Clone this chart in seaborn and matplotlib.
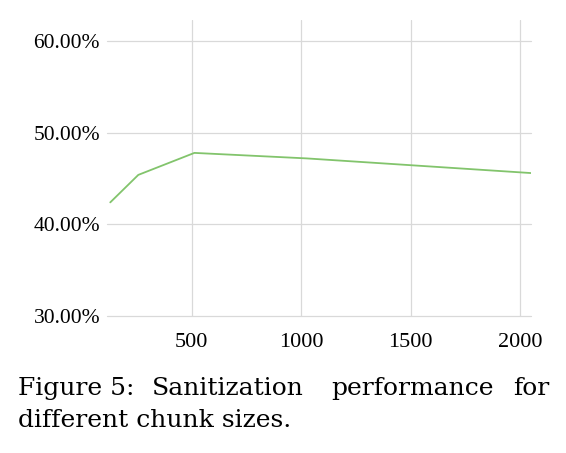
import pandas as pd
import seaborn as sns
import matplotlib.pyplot as plt
from matplotlib.ticker import PercentFormatter

sns.set_theme(style="whitegrid")
plt.rcParams["font.family"] = "Liberation Serif"

# data
chunk_sizes = [128, 256, 512, 1024, 2048]
performance = [42.4, 45.4, 47.8, 47.2, 45.6]
x_ticks = [500, 1000, 1500, 2000]
y_ticks = [30, 40, 50, 60]

df = pd.DataFrame({"chunk": chunk_sizes, "perf": performance})

fig = plt.figure(figsize=(5.66, 4.53), dpi=100)
ax = fig.add_axes([0.189, 0.3024, 0.749, 0.6534])
sns.lineplot(data=df, x="chunk", y="perf", color="#82c46c", linewidth=1.3, ax=ax)

ax.set_xlim(113, 2048)
ax.set_ylim(30, 62.3)
ax.set_xticks(x_ticks)
ax.set_yticks(y_ticks)
ax.yaxis.set_major_formatter(PercentFormatter(decimals=2))
ax.set_xlabel("")
ax.set_ylabel("")
ax.grid(True, color="#d9d9d9", linewidth=0.9)
for gl in ax.get_ygridlines():
    gl.set_clip_on(False)
for s in ax.spines.values():
    s.set_visible(False)
ax.tick_params(axis="x", labelsize=16, colors="black", length=0, pad=12)
ax.tick_params(axis="y", labelsize=15.5, colors="black", length=0, pad=5)
for lbl in ax.get_xticklabels() + ax.get_yticklabels():
    lbl.set_fontfamily("Liberation Serif")

# caption, justified on the first line
cap = dict(fontsize=18, color="black", va="baseline", family="DejaVu Serif")
y1 = 1 - 395 / 453
y2 = 1 - 427 / 453
fig.text(18 / 566, y1, "Figure 5:", ha="left", **cap)
fig.text(228 / 566, y1, "Sanitization", ha="center", **cap)
fig.text(413 / 566, y1, "performance", ha="center", **cap)
fig.text(549 / 566, y1, "for", ha="right", **cap)
fig.text(18 / 566, y2, "different chunk sizes.", ha="left", **cap)

fig.savefig("out.png", dpi=100)
